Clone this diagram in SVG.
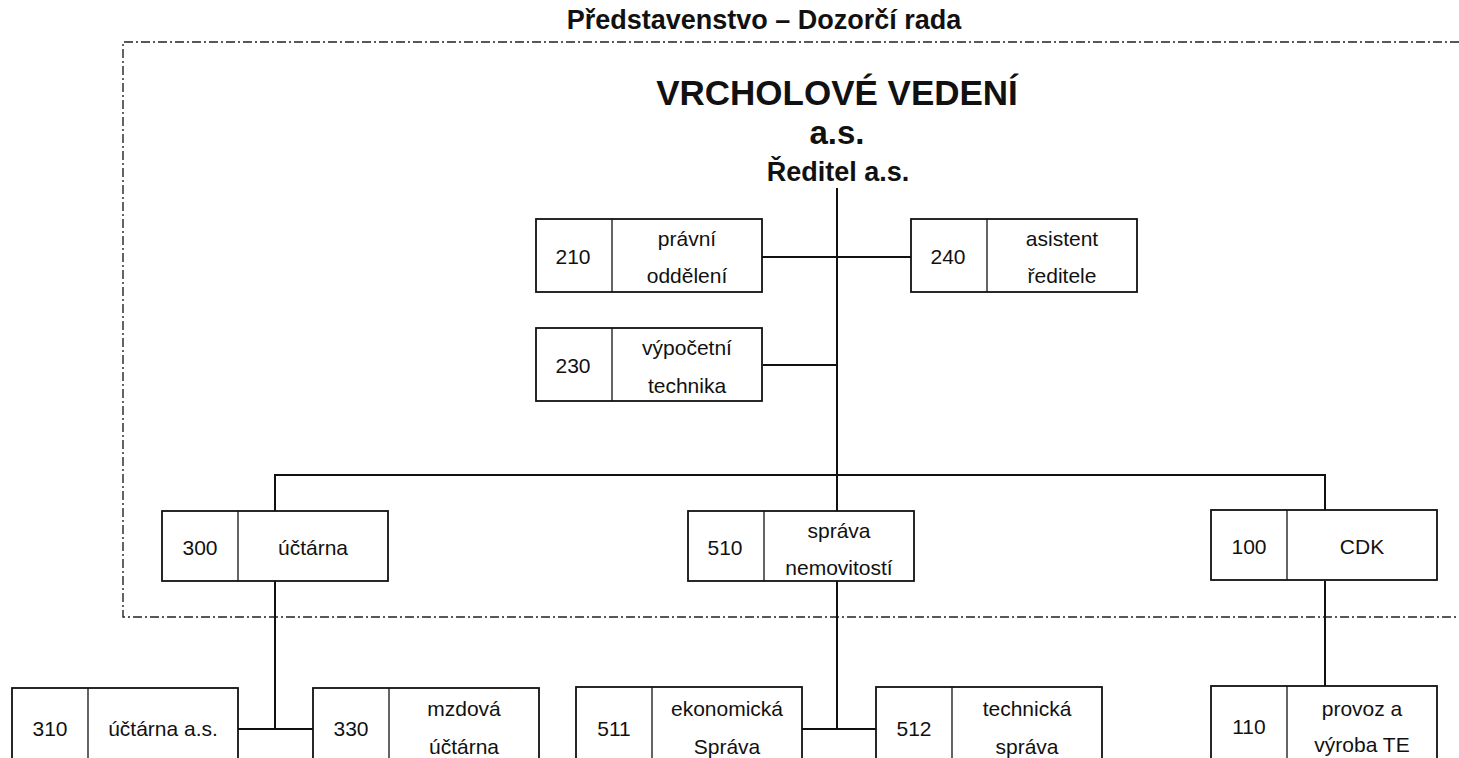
<svg xmlns="http://www.w3.org/2000/svg" width="1459" height="758" viewBox="0 0 1459 758">
<style>
text{font-family:"Liberation Sans",Arial,sans-serif;fill:#111;}
.t{font-size:21px;text-anchor:middle;}
.h{font-weight:bold;text-anchor:middle;}
.box{fill:#fff;stroke:#111;stroke-width:1.8;}
.div{stroke:#111;stroke-width:1.3;}
.con{stroke:#111;stroke-width:2;fill:none;}
.frame{stroke:#222;stroke-width:1.4;fill:none;stroke-dasharray:9 3 2 3;}
</style>
<rect width="1459" height="758" fill="#fff"/>
<g id="frame">
<path class="frame" d="M1459,42 H123 V617 H1459"/>
</g>
<g id="headers">
<text class="h" x="764" y="29" font-size="27">Představenstvo – Dozorčí rada</text>
<text class="h" x="837" y="105" font-size="35">VRCHOLOVÉ VEDENÍ</text>
<text class="h" x="837" y="144" font-size="33">a.s.</text>
<text class="h" x="838" y="181" font-size="27">Ředitel a.s.</text>
</g>
<g id="connectors">
<path class="con" d="M837,188 V511"/>
<path class="con" d="M762,257 H911"/>
<path class="con" d="M763,365 H837"/>
<path class="con" d="M275,511 V475 H1325 V511"/>
<path class="con" d="M275,581 V729"/>
<path class="con" d="M238,729 H313"/>
<path class="con" d="M837,581 V729"/>
<path class="con" d="M802,729 H876"/>
<path class="con" d="M1325,581 V687"/>
</g>
<g id="n210">
<rect class="box" x="536" y="219" width="226" height="73"/>
<line class="div" x1="612" y1="219" x2="612" y2="292"/>
<text class="t" x="573" y="264">210</text>
<text class="t" x="687" y="246">právní</text>
<text class="t" x="687" y="283">oddělení</text>
</g>
<g id="n240">
<rect class="box" x="911" y="219" width="226" height="73"/>
<line class="div" x1="987" y1="219" x2="987" y2="292"/>
<text class="t" x="948" y="264">240</text>
<text class="t" x="1062" y="246">asistent</text>
<text class="t" x="1062" y="283">ředitele</text>
</g>
<g id="n230">
<rect class="box" x="536" y="328" width="226" height="73"/>
<line class="div" x1="612" y1="328" x2="612" y2="401"/>
<text class="t" x="573" y="373">230</text>
<text class="t" x="687" y="355">výpočetní</text>
<text class="t" x="687" y="393">technika</text>
</g>
<g id="n300">
<rect class="box" x="162" y="511" width="226" height="70"/>
<line class="div" x1="238" y1="511" x2="238" y2="581"/>
<text class="t" x="200" y="555">300</text>
<text class="t" x="313" y="555">účtárna</text>
</g>
<g id="n510">
<rect class="box" x="688" y="511" width="226" height="70"/>
<line class="div" x1="764" y1="511" x2="764" y2="581"/>
<text class="t" x="725" y="555">510</text>
<text class="t" x="839" y="538">správa</text>
<text class="t" x="839" y="575">nemovitostí</text>
</g>
<g id="n100">
<rect class="box" x="1211" y="510" width="226" height="70"/>
<line class="div" x1="1287" y1="510" x2="1287" y2="580"/>
<text class="t" x="1249" y="554">100</text>
<text class="t" x="1362" y="554">CDK</text>
</g>
<g id="n310">
<rect class="box" x="12" y="688" width="226" height="80"/>
<line class="div" x1="88" y1="688" x2="88" y2="768"/>
<text class="t" x="50" y="736">310</text>
<text class="t" x="163" y="736">účtárna a.s.</text>
</g>
<g id="n330">
<rect class="box" x="313" y="688" width="226" height="80"/>
<line class="div" x1="389" y1="688" x2="389" y2="768"/>
<text class="t" x="351" y="736">330</text>
<text class="t" x="464" y="716">mzdová</text>
<text class="t" x="464" y="754">účtárna</text>
</g>
<g id="n511">
<rect class="box" x="576" y="687" width="226" height="80"/>
<line class="div" x1="652" y1="687" x2="652" y2="767"/>
<text class="t" x="614" y="736">511</text>
<text class="t" x="727" y="716">ekonomická</text>
<text class="t" x="727" y="754">Správa</text>
</g>
<g id="n512">
<rect class="box" x="876" y="687" width="226" height="80"/>
<line class="div" x1="952" y1="687" x2="952" y2="767"/>
<text class="t" x="914" y="736">512</text>
<text class="t" x="1027" y="716">technická</text>
<text class="t" x="1027" y="754">správa</text>
</g>
<g id="n110">
<rect class="box" x="1211" y="686" width="226" height="80"/>
<line class="div" x1="1287" y1="686" x2="1287" y2="766"/>
<text class="t" x="1249" y="734">110</text>
<text class="t" x="1362" y="716">provoz a</text>
<text class="t" x="1362" y="752">výroba TE</text>
</g>
</svg>
